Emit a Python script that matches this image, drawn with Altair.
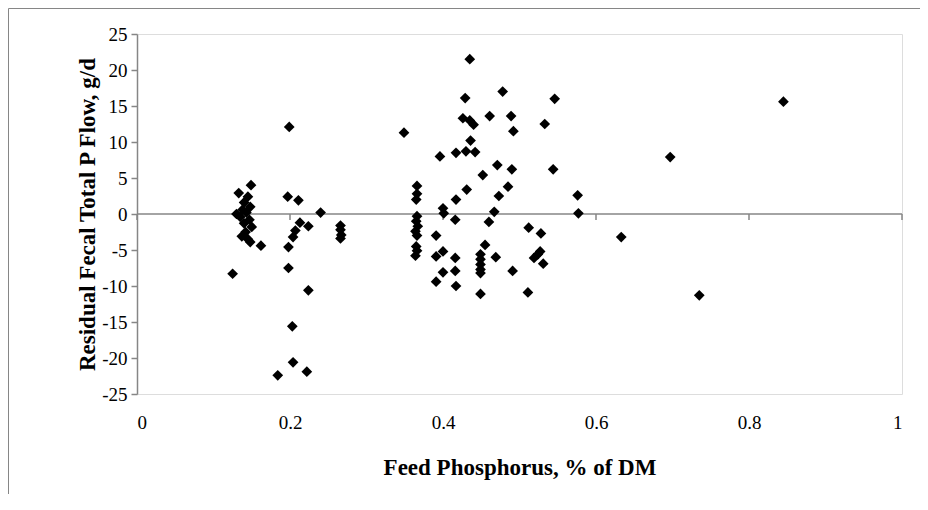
import altair as alt
import pandas as pd

# Feed phosphorus (% of DM) and residual fecal total P flow (g/d)
feed_p = [
    0.125, 0.133, 0.149, 0.145, 0.140, 0.148, 0.138, 0.143, 0.130, 0.135,
    0.147, 0.140, 0.150, 0.142, 0.137, 0.145, 0.148, 0.162,
    0.199, 0.197, 0.211, 0.240, 0.213, 0.224, 0.207, 0.204, 0.198, 0.198,
    0.224, 0.203, 0.204, 0.184, 0.222, 0.266, 0.266, 0.267, 0.266,
    0.349, 0.366, 0.366, 0.365, 0.366, 0.365, 0.367, 0.364, 0.366, 0.365,
    0.366, 0.364, 0.396, 0.391, 0.391, 0.391, 0.400, 0.401, 0.400, 0.400,
    0.417, 0.417, 0.416, 0.416, 0.416, 0.417, 0.426, 0.429, 0.430, 0.431,
    0.435, 0.435, 0.436, 0.440, 0.442, 0.449, 0.449, 0.449, 0.449, 0.449,
    0.449, 0.452, 0.455, 0.460, 0.461, 0.467, 0.469, 0.471, 0.473, 0.478,
    0.485, 0.489, 0.490, 0.491, 0.492, 0.511, 0.512, 0.519, 0.524, 0.527,
    0.528, 0.531, 0.533, 0.544, 0.546, 0.576, 0.577, 0.633, 0.697, 0.735,
    0.845,
]
residual = [
    -8.3, 2.9, 4.0, 2.4, 1.6, 1.0, 0.6, 0.2, 0.0, -0.4,
    -0.8, -1.3, -1.8, -2.5, -3.1, -3.5, -3.9, -4.4,
    12.1, 2.4, 1.9, 0.2, -1.2, -1.7, -2.3, -3.2, -4.6, -7.5,
    -10.6, -15.6, -20.6, -22.4, -21.9, -1.6, -2.2, -2.9, -3.4,
    11.3, 3.9, 2.8, 2.0, -0.3, -1.0, -1.7, -2.4, -3.0, -4.5,
    -5.1, -5.8, 8.0, -3.0, -5.9, -9.4, 0.8, 0.1, -5.2, -8.1,
    8.5, 2.0, -0.8, -6.1, -7.9, -10.0, 13.3, 16.1, 8.7, 3.4,
    21.5, 13.0, 10.2, 12.4, 8.6, -5.6, -6.3, -7.0, -7.7, -8.2,
    -11.1, 5.4, -4.3, -1.1, 13.6, 0.3, -6.0, 6.8, 2.5, 17.0,
    3.8, 13.6, 6.2, -7.9, 11.5, -10.9, -1.9, -6.1, -5.6, -5.2,
    -2.7, -6.9, 12.5, 6.2, 16.0, 2.6, 0.1, -3.2, 7.9, -11.3,
    15.6,
]

x_ticks = [0, 0.2, 0.4, 0.6, 0.8, 1]
y_ticks = [-25, -20, -15, -10, -5, 0, 5, 10, 15, 20, 25]
tick_len = -0.83  # y value of the lower end of the small ticks on the zero line

df = pd.DataFrame({"x": feed_p, "y": residual})
tick_df = pd.DataFrame({"x": x_ticks, "y": [0] * len(x_ticks), "y2": [tick_len] * len(x_ticks)})
one = pd.DataFrame({"a": [0]})

GREY = "#868686"
FONT = "Liberation Serif"

points = alt.Chart(df).mark_point(
    shape="diamond", filled=True, color="black", size=115, opacity=1
).encode(
    x=alt.X(
        "x:Q",
        scale=alt.Scale(domain=[0, 1], nice=False, zero=False),
        axis=alt.Axis(
            values=x_ticks, tickCount=len(x_ticks), title="Feed Phosphorus, % of DM",
            domain=False, ticks=False,
            grid=False, labelPadding=19, labelFont=FONT, labelFontSize=19,
            labelColor="black", labelExpr="'' + datum.value", labelOverlap=False,
            titleFont=FONT, titleFontSize=23, titleFontWeight="bold", titleColor="black",
            titleY=73, titleBaseline="middle",
        ),
    ),
    y=alt.Y(
        "y:Q",
        scale=alt.Scale(domain=[-25, 25], nice=False, zero=False),
        axis=alt.Axis(
            values=y_ticks, tickCount=len(y_ticks), title="Residual Fecal Total P Flow, g/d",
            grid=False,
            domainColor=GREY, domainWidth=1.5, tickColor=GREY, tickWidth=1.5, tickSize=6,
            labelPadding=4, labelFont=FONT, labelFontSize=19, labelColor="black",
            labelExpr="'' + datum.value", labelOverlap=False,
            titleFont=FONT, titleFontSize=23, titleFontWeight="bold", titleColor="black",
            titleX=-50, titleY=180, titleAngle=270, titleBaseline="middle", titleAlign="center",
        ),
    ),
)

zero_line = alt.Chart(one).mark_rule(color=GREY, strokeWidth=1.5).encode(
    x=alt.datum(0), x2=alt.datum(1), y=alt.datum(0)
)

ticks = alt.Chart(tick_df).mark_rule(color=GREY, strokeWidth=1.5).encode(
    x="x:Q", y="y:Q", y2="y2:Q"
)

frame_top = alt.Chart(one).mark_rule(color=GREY, strokeWidth=1).encode(
    x=alt.value(-128.5), x2=alt.value(800), y=alt.value(-25.5)
)
frame_left = alt.Chart(one).mark_rule(color=GREY, strokeWidth=1).encode(
    x=alt.value(-128.5), y=alt.value(-25.5), y2=alt.value(500)
)

chart = alt.layer(frame_top, frame_left, zero_line, ticks, points).properties(
    width=765, height=360,
    autosize=alt.AutoSizeParams(type="none"),
    padding={"left": 129, "top": 26, "right": 18, "bottom": 100},
).configure_view(stroke=None).configure(background="white")

chart.save("out.html", embed_options={"renderer": "svg", "actions": False})
